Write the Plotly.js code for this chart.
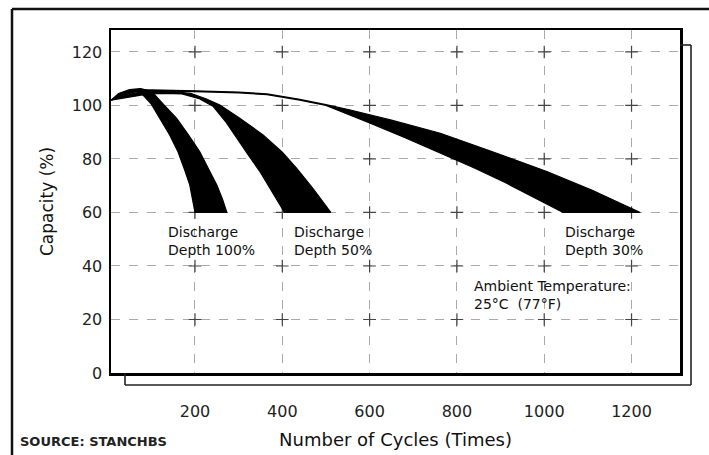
<!DOCTYPE html>
<html><head><meta charset="utf-8">
<script src="https://cdn.plot.ly/plotly-3.0.1.min.js"></script>
<style>html,body{margin:0;padding:0;background:#fff;}#chart{width:709px;height:455px;}</style>
</head><body><div id="chart"></div>
<script>
// Tick values
const xTicks = [200, 400, 600, 800, 1000, 1200];
const yTicks = [0, 20, 40, 60, 80, 100, 120];

// Discharge depth 100% band (upper / lower edges)
const d100UpperX = [8, 25, 50, 75, 95, 108, 130, 158, 185, 211, 232, 250, 263, 273];
const d100UpperY = [102, 104.5, 105.9, 106.3, 105.6, 103.9, 100, 95.2, 89, 82.7, 76, 70.3, 65, 60];
const d100LowerX = [8, 25, 45, 65, 81, 100, 120, 142, 161, 176, 188, 195, 200];
const d100LowerY = [102, 103.5, 104.8, 105.2, 103.9, 100.5, 95.2, 89, 82.7, 76, 70.3, 65, 60];

// Discharge depth 50% band
const d50UpperX = [8, 40, 80, 120, 160, 190, 225, 257, 300, 356, 400, 433, 470, 511];
const d50UpperY = [102, 104, 105, 105.3, 105, 104.5, 102.5, 100.2, 95.5, 89, 82.5, 76.5, 69, 60];
const d50LowerX = [8, 50, 90, 130, 170, 210, 242, 270, 296, 320, 350, 380, 405];
const d50LowerY = [102, 103, 104.2, 104.5, 104.3, 102.5, 99.6, 94, 87.7, 82, 75, 67, 60];

// Discharge depth 30% band
const d30UpperX = [8, 30, 60, 100, 200, 300, 365, 440, 500, 556, 650, 762, 880, 1006, 1110, 1220];
const d30UpperY = [102, 104.5, 105.6, 105.8, 105.5, 105, 104.3, 102.3, 100.3, 98.3, 94.5, 89.6, 82.8, 75.3, 68.3, 60];
const d30LowerX = [8, 30, 60, 100, 200, 300, 365, 440, 500, 540, 600, 680, 762, 840, 914, 980, 1043];
const d30LowerY = [102, 103.5, 105, 105.4, 105.2, 104.7, 104, 102, 100, 97.5, 93.5, 88, 82.2, 76.6, 70.9, 65.2, 60];

const labelTexts = ["Discharge<br>Depth 100%", "Discharge<br>Depth 50%", "Discharge<br>Depth 30%", "Ambient Temperature:<br>25°C  (77°F)"];
const labelX = [133, 422, 1043, 835];
const labelY = [49.5, 49.5, 49.5, 29.2];

function band(ux, uy, lx, ly) {
  return {
    x: ux.concat(lx.slice().reverse()),
    y: uy.concat(ly.slice().reverse()),
    type: 'scatter', mode: 'lines', fill: 'toself',
    fillcolor: '#000', line: {color: '#000', width: 1.2},
    hoverinfo: 'skip', showlegend: false
  };
}

const gx = [], gy = [];
xTicks.forEach(x => yTicks.filter(y => y > 0).forEach(y => { gx.push(x); gy.push(y); }));

const traces = [
  {x: gx, y: gy, type: 'scatter', mode: 'markers',
   marker: {symbol: 'cross-thin', size: 9, color: '#444', line: {color: '#444', width: 1.2}},
   hoverinfo: 'skip', showlegend: false},
  band(d100UpperX, d100UpperY, d100LowerX, d100LowerY),
  band(d50UpperX, d50UpperY, d50LowerX, d50LowerY),
  band(d30UpperX, d30UpperY, d30LowerX, d30LowerY)
];

const annFont = {family: 'DejaVu Sans', size: 14, color: '#111'};
const annotations = labelTexts.map((t, i) => ({
  x: labelX[i], y: labelY[i], xref: 'x', yref: 'y', text: t, showarrow: false,
  xanchor: 'left', yanchor: 'middle', align: 'left', font: annFont
}));
annotations.push({
  x: -0.163, y: -0.2, xref: 'paper', yref: 'paper', xanchor: 'left', yanchor: 'middle',
  text: '<b>SOURCE: STANCHBS</b>', showarrow: false,
  font: {family: 'DejaVu Sans', size: 13, color: '#222'}
});

const pw = 569, ph = 343;
const px = v => (v - 111) / pw;
const py = v => (373 - v) / ph;
const lineStyle = {color: '#222', width: 1.6};
const shapes = [
  // offset shadow frame
  {type: 'line', xref: 'paper', yref: 'paper', x0: px(125), y0: py(373), x1: px(125), y1: py(385), line: lineStyle},
  {type: 'line', xref: 'paper', yref: 'paper', x0: px(125), y0: py(385), x1: px(691), y1: py(385), line: lineStyle},
  {type: 'line', xref: 'paper', yref: 'paper', x0: px(691), y0: py(385), x1: px(691), y1: py(45), line: lineStyle},
  {type: 'line', xref: 'paper', yref: 'paper', x0: px(680), y0: py(45), x1: px(691), y1: py(45), line: lineStyle},
  // outer border
  {type: 'line', xref: 'paper', yref: 'paper', x0: px(12), y0: py(460), x1: px(12), y1: py(9), line: {color: '#111', width: 2.5}},
  {type: 'line', xref: 'paper', yref: 'paper', x0: px(12), y0: py(9), x1: px(715), y1: py(9), line: {color: '#111', width: 2.5}}
];

const layout = {
  width: 709, height: 455,
  margin: {l: 111, r: 29, t: 30, b: 82},
  paper_bgcolor: '#fff', plot_bgcolor: '#fff',
  showlegend: false,
  xaxis: {
    range: [7.6, 1311], tickvals: xTicks, ticktext: xTicks.map(String),
    showgrid: true, gridcolor: '#aaa', griddash: 'dash', gridwidth: 1,
    zeroline: false, showline: true, mirror: true, linecolor: '#000', linewidth: 2.5,
    ticks: '', ticklabelstandoff: 22,
    tickfont: {family: 'DejaVu Sans', size: 16, color: '#222'},
    title: {text: 'Number of Cycles (Times)', font: {family: 'DejaVu Sans', size: 18, color: '#111'}, standoff: 14}
  },
  yaxis: {
    range: [0, 128.2], tickvals: yTicks, ticktext: yTicks.map(String),
    showgrid: true, gridcolor: '#aaa', griddash: 'dash', gridwidth: 1,
    zeroline: false, showline: true, mirror: true, linecolor: '#000', linewidth: 2.5,
    ticks: '', ticklabelstandoff: 3,
    tickfont: {family: 'DejaVu Sans', size: 16, color: '#222'},
    title: {text: 'Capacity (%)', font: {family: 'DejaVu Sans', size: 17, color: '#111'}, standoff: 14}
  },
  annotations: annotations,
  shapes: shapes
};

Plotly.newPlot('chart', traces, layout, {displayModeBar: false, staticPlot: true});
</script>
</body></html>
